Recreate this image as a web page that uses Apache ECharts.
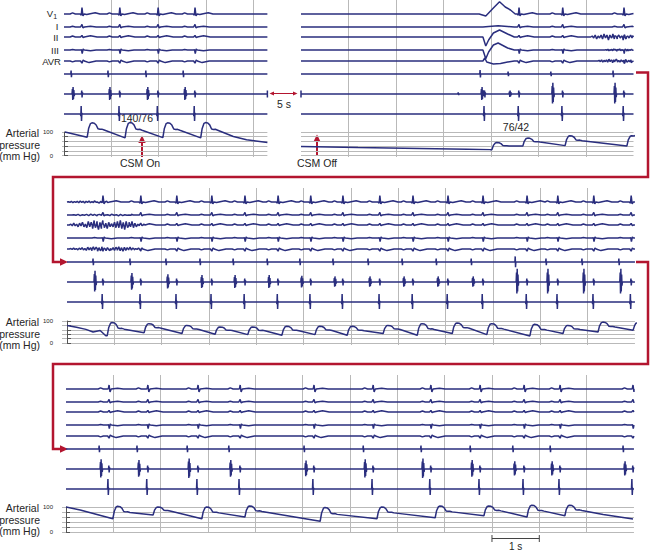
<!DOCTYPE html>
<html>
<head>
<meta charset="utf-8">
<script src="https://cdn.jsdelivr.net/npm/echarts@6/dist/echarts.min.js"></script>
<style>html,body{margin:0;padding:0;background:#fff}#c{width:650px;height:552px}</style>
</head>
<body>
<div id="c"></div>
<script>
// ================= DATA =================
// times in seconds from the start of each strip; deflections in trace units; pressure in mm Hg
const leadNames = ['V', 'I', 'II', 'III', 'AVR'];
const leadSub = '1';
const pressureTickLabels = [0, 100];
const stripSeconds = [4.3, 7, 12, 12];

// --- waveform shapes (one beat, [dt, deflection]) ---
const tplP_V1  = [[-0.02,0],[0.03,1.1],[0.09,0]];
const tplP_I   = [[-0.02,0],[0.03,0.7],[0.09,0]];
const tplP_II  = [[-0.02,0],[0.03,1.0],[0.09,0]];
const tplP_III = [[-0.02,0],[0.03,0.5],[0.09,0]];
const tplP_AVR = [[-0.02,0],[0.03,-0.9],[0.09,0]];

const tplV_V1  = [[-0.02,0],[0.005,-1.2],[0.02,6.5],[0.04,-1.8],[0.065,0],[0.12,-0.6],[0.22,0.6],[0.3,1.3],[0.4,0]];
const tplV_V1b = [[-0.02,0],[0.005,0.3],[0.02,4],[0.04,-3],[0.065,0],[0.2,0.8],[0.32,0]];
const tplV_I   = [[-0.01,0],[0.02,2.6],[0.04,-0.8],[0.07,0],[0.2,0.8],[0.32,0]];
const tplV_II  = [[-0.01,0],[0.02,1.6],[0.045,-0.6],[0.07,0],[0.2,1.3],[0.34,0]];
const tplV_III = [[-0.01,0],[0.01,0.4],[0.025,-3.6],[0.045,1],[0.07,0],[0.2,-0.8],[0.32,0]];
const tplV_AVR = [[-0.01,0],[0.02,-2.2],[0.045,1],[0.07,0],[0.17,-1.6],[0.32,0]];

const tplEsc_V1  = [[-0.1,0],[0.04,-2],[0.2,6],[0.33,12.3],[0.45,7],[0.56,4],[0.66,0]];
const tplEsc_I   = [[-0.02,0],[0.1,0.6],[0.3,1.2],[0.5,0.5],[0.64,0]];
const tplEsc_II  = [[-0.02,0],[0.04,-9],[0.1,-3],[0.2,4],[0.33,7],[0.5,3],[0.64,0]];
const tplEsc_III = [[-0.02,0],[0.04,-8.7],[0.1,-2],[0.2,5],[0.3,7],[0.5,2],[0.64,0]];
const tplEsc_AVR = [[-0.02,0],[0.02,3],[0.06,-1],[0.2,-3],[0.35,-2.5],[0.5,-1],[0.64,0]];

const tplHRA  = [[-0.006,0],[0,3.5],[0.007,-3.2],[0.013,0]];
const tplHisA = [[0.02,0],[0.028,5],[0.035,-6],[0.042,7],[0.05,-5],[0.058,4],[0.066,-2],[0.074,0]];
const tplHisV = [[0.008,0],[0.015,3.5],[0.022,-3.5],[0.03,1.5],[0.036,0]];
const tplRV   = [[-0.012,0],[-0.004,-2],[0.003,8],[0.01,-7],[0.018,1],[0.025,0]];
const tplRV3  = [[-0.012,0],[-0.004,10],[0.004,-6],[0.012,1],[0.02,0]];

const tplPress = [[0,0],[0.03,0.6],[0.07,0.95],[0.1,1],[0.15,0.97],[0.19,0.85],[0.23,0.58],[0.27,0.55],[0.31,0.56],[0.36,0.5]];

const noiseA = [0,1,-1,2,-1,1,-2,2,-1,3,-2,1,-3,4,-2,3,-4,5,-3,4,-5,3,-4,5,-3,2,-4,3,-2,1,-2,3,-3,4,-3,5,-4,3,-5,4,-3,3,-2,4,-3,2,-2,1,-1,2,-1,1,0];
const noiseB = [0,1,-1,2,-2,1,-1,2,-2,3,-1,2,-3,2,-1,3,-2,1,-2,2,-1,1,-3,2,-2,1,-1,2,-1,0];

// --- Row 1, left strip (CSM On) ---
const r1L_hraTimes = [0.15, 0.93, 1.73, 2.52];
const r1L_hraScale = [1, 1, 1, 1];
const r1L_rvTimes  = [0.36, 1.16, 1.97, 2.75];
const r1L_hisAScale = [1, 1, 1, 1];
const r1L_hisEndTick = [[4.28,0],[4.3,0],[4.3,3.5],[4.3,-3.5],[4.3,0]];
const r1L_pressStart = [[0.02,100]];
const r1L_pressBeats = [[0.49,139,78],[1.29,140,75],[2.09,139,76],[2.89,140,75]];
const r1L_pressTail  = [[3.58,81],[3.86,67],[4.3,55]];

// --- Row 1, right strip (CSM Off) ---
const r1R_hraTimes = [3.77, 4.36, 5.26, 6.57];
const r1R_hraScale = [1.1, 0.7, 0.7, 1];
const r1R_pTimes   = [5.26, 6.57];
const r1R_rvTimes  = [3.85, 4.57, 5.49, 6.78];
const r1R_normalQRS = [4.57, 5.49, 6.78];
const r1R_escapeQRS = [3.85];
const r1R_hisAScale = [1, 0.5, 1.6, 1.6];
const r1R_hisExtra  = [[0,3.5],[0,-3.5],[0,0],[3.30,0],[3.31,1.5],[3.32,-1],[3.33,0]];
const r1R_pressStart = [[0,38],[1.2,34],[2.5,30],[3.5,27],[3.98,25]];
const r1R_pressBeats = [[4.02,55,25],[4.67,74,40],[5.56,84,42],[6.86,84,40]];
const r1R_pressTail  = [[7.05,86]];

// --- Row 2 ---
const r2_hraTimes = [0.55,1.33,2.09,2.81,3.51,4.23,4.92,5.62,6.36,7.08,7.80,8.54,9.47,10.12,10.88,11.66];
const r2_hraScale = [1,1,1,1,1,1,1,1,1,1,1,1,1.6,1,1,1];
const r2_rvTimes  = [0.74,1.54,2.30,3.04,3.74,4.44,5.13,5.81,6.59,7.29,8.03,8.77,9.70,10.35,11.11,11.90];
const r2_hisAScale = [1.6,1.3,1.1,1,1,1,0.9,0.8,0.8,0.8,0.8,0.8,1.9,1.9,1.9,1.9];
const r2_pressStart = [[0,80],[0.2,72],[0.4,62],[0.55,50],[0.7,57],[0.82,33]];
const r2_pressBeats = [[0.85,93,33],[1.63,88,47],[2.43,80,43],[3.13,73,40],[3.82,73,38],[4.54,76,35],[5.24,76,38],[5.92,76,35],[6.68,80,43],[7.40,88,35],[8.14,91,43],[8.87,88,38],[9.78,85,32],[10.48,80,43],[11.22,95,50],[11.96,91,58]];
const r2_pressTail  = [[12.02,90]];

// --- Row 3 ---
const r3_hraTimes = [0.70,1.50,2.56,3.44,5.03,6.28,7.50,8.54,9.44,10.23,11.77];
const r3_hraScale = [1,1,1,1,1,1,1,1,1,1,1];
const r3_rvTimes  = [0.89,1.71,2.77,3.66,5.22,6.47,7.69,8.73,9.66,10.42,11.96];
const r3_hisAScale = [1.4,1.3,1.5,1.3,1.2,1.4,1.5,1.3,1.1,1.1,1.1];
const r3_pressStart = [[0,100],[0.3,88]];
const r3_pressBeats = [[0.99,103,53],[1.84,100,68],[2.87,100,53],[3.78,104,60],[5.37,98,43],[6.57,100,53],[7.80,104,57],[8.83,104,65],[9.74,107,60],[10.54,107,65]];
const r3_pressTail  = [[11.35,70],[11.98,52]];

// ================= BUILDERS =================
function put(tpl, times, scales) {
  const out = [];
  times.forEach((t0, i) => {
    const k = scales ? scales[i] : 1;
    tpl.forEach(p => out.push([t0 + p[0], p[1] * k]));
  });
  return out;
}
function spread(noise, t0, t1, k) {
  const step = (t1 - t0) / (noise.length - 1);
  return noise.map((v, i) => [t0 + i * step, v * k]);
}
function trace(tmax, parts) {
  const pts = [].concat(...parts).filter(p => p[0] >= 0 && p[0] <= tmax).sort((a, b) => a[0] - b[0]);
  return [[0, 0], ...pts, [tmax, 0]];
}
function pressure(start, beats, tail, tmax) {
  const pts = start.slice();
  beats.forEach(([u, S, D]) => tplPress.forEach(([dt, f]) => pts.push([u + dt, D + f * (S - D)])));
  tail.forEach(p => pts.push(p));
  return pts.filter(p => p[0] <= tmax + 0.06).sort((a, b) => a[0] - b[0]);
}
const tplP = {V1: tplP_V1, I: tplP_I, II: tplP_II, III: tplP_III, AVR: tplP_AVR};
const tplV = {V1: tplV_V1, I: tplV_I, II: tplV_II, III: tplV_III, AVR: tplV_AVR};
const tplEsc = {V1: tplEsc_V1, I: tplEsc_I, II: tplEsc_II, III: tplEsc_III, AVR: tplEsc_AVR};
const surfaceKeys = ['V1', 'I', 'II', 'III', 'AVR'];

function ecgChannels(d, tmax) {
  const ch = [];
  surfaceKeys.forEach(k => {
    const tv = (k === 'V1' && d.v1Tpl) ? d.v1Tpl : tplV[k];
    const parts = [put(tplP[k], d.pTimes || d.hra), put(tv, d.qrs || d.rv)];
    if (d.escape) parts.push(put(tplEsc[k], d.escape));
    if (d.extra && d.extra[k]) parts.push(d.extra[k]);
    ch.push(trace(tmax, parts));
  });
  ch.push(trace(tmax, [put(tplHRA, d.hra, d.hraScale)]));
  const his = [put(tplHisA, d.hra, d.hisScale), put(tplHisV, d.rv)];
  if (d.extra && d.extra.HIS) his.push(d.extra.HIS);
  ch.push(trace(tmax, his));
  ch.push(trace(tmax, [put(d.rvTpl || tplRV, d.rv)]));
  return ch;
}

// ================= LAYOUT =================
const TRACE = '#2a2e7e', GRIDC = '#b9b9b9', RED = '#b3152f', INK = '#262626';
const FONT = "'Liberation Sans', Arial, Helvetica, sans-serif";
const LEAD_OFFSET = [14, 27, 37, 50, 61, 74, 94, 114];
const PANEL_H = 157;

const panels = [
  {left: 64, top: 0, pxps: 47.3, tmax: stripSeconds[0], pLeft: 62, pTop: 132, pH: 23.5, ruler: true,
   ch: ecgChannels({hra: r1L_hraTimes, hraScale: r1L_hraScale, rv: r1L_rvTimes, hisScale: r1L_hisAScale,
                    extra: {HIS: r1L_hisEndTick}}, stripSeconds[0]),
   press: pressure(r1L_pressStart, r1L_pressBeats, r1L_pressTail, stripSeconds[0])},
  {left: 301, top: 0, pxps: 47.5, tmax: stripSeconds[1], pLeft: 301, pTop: 132, pH: 23.5, ruler: false,
   ch: ecgChannels({hra: r1R_hraTimes, hraScale: r1R_hraScale, pTimes: r1R_pTimes, rv: r1R_rvTimes,
                    qrs: r1R_normalQRS, escape: r1R_escapeQRS, hisScale: r1R_hisAScale,
                    extra: {HIS: r1R_hisExtra, II: spread(noiseB, 6.1, 7.0, 1.0),
                            AVR: spread(noiseB, 6.25, 7.0, 0.6), III: spread(noiseB, 6.4, 7.0, 0.35)}}, stripSeconds[1]),
   press: pressure(r1R_pressStart, r1R_pressBeats, r1R_pressTail, stripSeconds[1])},
  {left: 67, top: 188, pxps: 47.33, tmax: stripSeconds[2], pLeft: 62, pTop: 321, pH: 22, ruler: true,
   ch: ecgChannels({hra: r2_hraTimes, hraScale: r2_hraScale, rv: r2_rvTimes, hisScale: r2_hisAScale,
                    extra: {II: spread(noiseA, 0.05, 1.65, 0.9), AVR: spread(noiseA, 0.05, 1.6, 0.45),
                            V1: spread(noiseB, 0.0, 0.9, 0.35), I: spread(noiseB, 0.1, 1.4, 0.3)}}, stripSeconds[2]),
   press: pressure(r2_pressStart, r2_pressBeats, r2_pressTail, stripSeconds[2])},
  {left: 66, top: 375, pxps: 47.33, tmax: stripSeconds[3], pLeft: 62, pTop: 507, pH: 25, ruler: true,
   ch: ecgChannels({hra: r3_hraTimes, hraScale: r3_hraScale, rv: r3_rvTimes, hisScale: r3_hisAScale,
                    rvTpl: tplRV3, v1Tpl: tplV_V1b}, stripSeconds[3]),
   press: pressure(r3_pressStart, r3_pressBeats, r3_pressTail, stripSeconds[3])}
];

const grids = [], xAxes = [], yAxes = [], series = [];
panels.forEach((P, pi) => {
  const gE = pi * 2, gP = pi * 2 + 1;
  const right = P.left + P.tmax * P.pxps;
  grids.push({left: P.left, top: P.top, width: P.tmax * P.pxps, height: PANEL_H, outerBoundsMode: 'none'});
  grids.push({left: P.pLeft, top: P.pTop, width: right - P.pLeft, height: P.pH, outerBoundsMode: 'none'});
  xAxes.push({gridIndex: gE, type: 'value', min: 0, max: P.tmax, interval: 1,
    axisLine: {show: false}, axisTick: {show: false}, axisLabel: {show: false},
    splitLine: {show: true, showMinLine: false, showMaxLine: false, lineStyle: {color: GRIDC, width: 1}}});
  xAxes.push({gridIndex: gP, type: 'value', min: -(P.left - P.pLeft) / P.pxps, max: P.tmax, show: false});
  yAxes.push({gridIndex: gE, type: 'value', min: -PANEL_H, max: 0, show: false});
  yAxes.push({gridIndex: gP, type: 'value', min: 0, max: 100, interval: 20, position: 'left',
    offset: P.pLeft - 56,
    axisLine: {show: P.ruler, lineStyle: {color: '#555', width: 1}},
    axisTick: {show: P.ruler, inside: true, length: 4, lineStyle: {color: '#555', width: 1}},
    axisLabel: {show: P.ruler, fontSize: 6, color: INK, margin: 3, fontFamily: FONT,
      showMinLabel: true, showMaxLabel: true,
      formatter: v => pressureTickLabels.includes(v) ? String(v) : ''},
    splitLine: {show: true, lineStyle: {color: GRIDC, width: 1}}});
  P.ch.forEach((pts, ci) => {
    series.push({type: 'line', xAxisIndex: gE, yAxisIndex: gE, showSymbol: false, symbol: 'none',
      clip: false, silent: true, animation: false,
      lineStyle: {color: TRACE, width: 1.5},
      data: pts.map(p => [p[0], p[1] - LEAD_OFFSET[ci]])});
  });
  series.push({type: 'line', xAxisIndex: gP, yAxisIndex: gP, showSymbol: false, symbol: 'none',
    clip: false, silent: true, animation: false,
    lineStyle: {color: TRACE, width: 1.5}, data: P.press});
});

// ---------- annotations ----------
const g = [];
function txt(x, y, s, align, size, color) {
  g.push({type: 'text', x: x, y: y, silent: true,
    style: {text: s, fill: color || INK, fontSize: size || 10.5, fontFamily: FONT,
            textAlign: align || 'center', textVerticalAlign: 'middle'}});
}
function pline(points, color, w) {
  g.push({type: 'polyline', silent: true, shape: {points: points},
    style: {stroke: color, lineWidth: w, fill: null, lineJoin: 'miter'}});
}
function tri(points, color) {
  g.push({type: 'polygon', silent: true, shape: {points: points}, style: {fill: color}});
}
// lead labels (row 1)
txt(53, 13.5, leadNames[0], 'right', 9.5);
txt(53.3, 16.5, leadSub, 'left', 7);
txt(58.5, 26.5, leadNames[1], 'right', 9.5);
txt(58.5, 37, leadNames[2], 'right', 9.5);
txt(59, 50.5, leadNames[3], 'right', 9.5);
txt(61, 61.5, leadNames[4], 'right', 9.5);
// pressure captions
panels.forEach(P => {
  if (!P.ruler) return;
  txt(39, P.pTop + 1, 'Arterial', 'right');
  txt(40, P.pTop + 12.5, 'pressure', 'right');
  txt(40, P.pTop + 24, '(mm Hg)', 'right');
});
// row 1 annotations
txt(137, 118, '140/76', 'center');
txt(516, 127, '76/42', 'center');
txt(140, 163, 'CSM On', 'center');
txt(317, 163, 'CSM Off', 'center');
txt(284, 104, '5 s', 'center');
pline([[142, 157], [142, 142]], RED, 2);
tri([[138.3, 143], [142, 135.5], [145.7, 143]], RED);
pline([[317, 156], [317, 141]], RED, 2);
tri([[313.3, 142], [317, 134.5], [320.7, 142]], RED);
pline([[272, 93.5], [295, 93.5]], RED, 1);
tri([[269.5, 93.5], [274, 91.5], [274, 95.5]], RED);
tri([[297.5, 93.5], [293, 91.5], [293, 95.5]], RED);
// red connectors
pline([[636, 72.5], [648, 72.5], [648, 177], [53, 177], [53, 262], [61, 262]], RED, 2.5);
tri([[60, 258.3], [68, 262], [60, 265.7]], RED);
pline([[636, 262], [648, 262], [648, 364], [53, 364], [53, 449], [61, 449]], RED, 2.5);
tri([[60, 445.3], [68, 449], [60, 452.7]], RED);
// 1 s scale bar (row 3 time scale)
const R3 = panels[3];
const sx0 = R3.left + 9 * R3.pxps, sx1 = R3.left + 10 * R3.pxps;
pline([[sx0, 538.5], [sx1, 538.5]], '#444', 1);
pline([[sx0, 535], [sx0, 542]], '#444', 1);
pline([[sx1, 535], [sx1, 542]], '#444', 1);
txt((sx0 + sx1) / 2, 546, '1 s', 'center', 10);

const chart = echarts.init(document.getElementById('c'), null, {renderer: 'svg', width: 650, height: 552});
chart.setOption({
  animation: false,
  backgroundColor: '#ffffff',
  grid: grids, xAxis: xAxes, yAxis: yAxes, series: series,
  graphic: g
});
</script>
</body>
</html>
